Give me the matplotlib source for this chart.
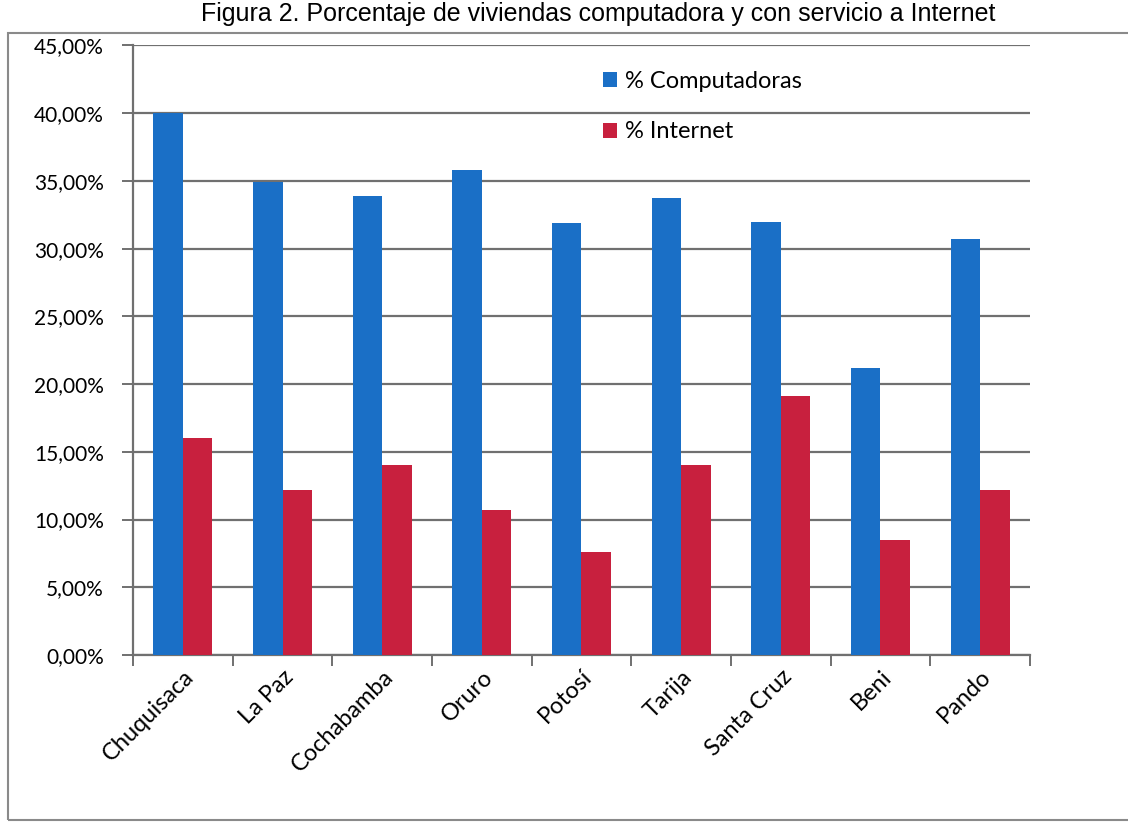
import numpy as np
import matplotlib.pyplot as plt
from matplotlib.patches import Rectangle
from matplotlib.ticker import FuncFormatter, FixedLocator

# data (percent)
departamentos = ['Chuquisaca', 'La Paz', 'Cochabamba', 'Oruro', 'Potosí',
                 'Tarija', 'Santa Cruz', 'Beni', 'Pando']
computadoras = [40.0, 34.9, 33.9, 35.8, 31.9, 33.7, 32.0, 21.2, 30.7]
internet = [16.0, 12.2, 14.0, 10.7, 7.6, 14.0, 19.1, 8.5, 12.2]

blue = '#1a6fc6'
red = '#c8203e'
grid_c = '#707070'

plt.rcParams['font.family'] = ['Lato', 'DejaVu Sans']

fig = plt.figure(figsize=(11.28, 8.25), dpi=100)
ax = fig.add_axes([0.118, 0.206, 0.795, 0.739])

x = np.arange(len(departamentos))
w = 0.296
ax.bar(x - w/2, computadoras, w, color=blue, label='% Computadoras', zorder=3)
ax.bar(x + w/2, internet, w, color=red, label='% Internet', zorder=3)

ax.set_xlim(-0.5, len(departamentos) - 0.5)
ax.set_ylim(0, 45)
ax.set_yticks(np.arange(0, 46, 5))
ax.yaxis.set_major_formatter(FuncFormatter(lambda v, p: f'{v:.2f}%'.replace('.', ',')))
ax.yaxis.grid(True, color=grid_c, lw=1.6, zorder=1)

# category ticks at the boundaries, labels at centers
ax.xaxis.set_major_locator(FixedLocator(np.arange(-0.5, len(departamentos), 1.0)))
ax.xaxis.set_major_formatter(FuncFormatter(lambda v, p: ''))
ax.xaxis.set_minor_locator(FixedLocator(x))
ax.set_xticklabels(departamentos, minor=True, rotation=45, ha='right',
                   rotation_mode='anchor', fontsize=17)
ax.tick_params(axis='x', which='minor', length=0, pad=8)
ax.tick_params(axis='x', which='major', length=8, width=1.4, color=grid_c)
ax.tick_params(axis='y', length=8, width=1.4, color=grid_c, labelsize=15, pad=13)

for s in ['top', 'right']:
    ax.spines[s].set_visible(False)
for s in ['left', 'bottom']:
    ax.spines[s].set_color(grid_c)
    ax.spines[s].set_linewidth(1.6)

ax.legend(loc='upper left', bbox_to_anchor=(0.50, 0.993), frameon=False,
          fontsize=17, handlelength=0.6, handleheight=0.6, handletextpad=0.35,
          labelspacing=1.25)

# outer chart border and title from the scanned page
fig.patches.append(Rectangle((0.007, 0.006), 1.1, 0.954, transform=fig.transFigure,
                             fill=False, edgecolor='#8a8a8a', lw=1.5))
fig.text(0.53, 0.998, 'Figura 2. Porcentaje de viviendas computadora y con servicio a Internet',
         ha='center', va='top', fontsize=18, family='Liberation Sans')

fig.savefig('out.png', dpi=100, facecolor='white')
